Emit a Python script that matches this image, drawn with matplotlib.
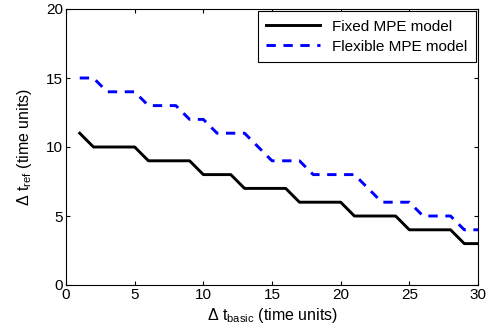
import numpy as np
import matplotlib
matplotlib.use('Agg')
import matplotlib.pyplot as plt

# global plotting options
plt.rcParams['font.family'] = ['Liberation Sans', 'DejaVu Sans']
plt.rcParams['mathtext.fontset'] = 'custom'
plt.rcParams['mathtext.rm'] = 'Liberation Sans'
plt.rcParams['mathtext.it'] = 'Liberation Sans:italic'
plt.rcParams['font.size'] = 11

# data
t_basic = np.arange(1, 31)
fixed_mpe = [11, 10, 10, 10, 10, 9, 9, 9, 9, 8,
             8, 8, 7, 7, 7, 7, 6, 6, 6, 6,
             5, 5, 5, 5, 4, 4, 4, 4, 3, 3]
flexible_mpe = [15, 15, 14, 14, 14, 13, 13, 13, 12, 12,
                11, 11, 11, 10, 9, 9, 9, 8, 8, 8,
                8, 7, 6, 6, 6, 5, 5, 5, 4, 4]

fig = plt.figure(figsize=(4.93, 3.36), dpi=100)
ax = fig.add_axes([66 / 493, 1 - 285 / 336, 412 / 493, 276 / 336])

ax.plot(t_basic, fixed_mpe, color='k', lw=2.1, label='Fixed MPE model')
ax.plot(t_basic, flexible_mpe, color='b', lw=2.1, dashes=(3.2, 2.6),
        label='Flexible MPE model')

ax.set_xlim(0, 30)
ax.set_ylim(0, 20)
ax.set_xticks(range(0, 31, 5))
ax.set_yticks(range(0, 21, 5))
ax.tick_params(direction='in', top=True, right=True, length=3, pad=2,
               labelsize=11)
for s in ax.spines.values():
    s.set_linewidth(0.8)

ax.set_xlabel(r'$\Delta$ t$_{\mathrm{basic}}$ (time units)', fontsize=11.5,
              labelpad=3)
ax.set_ylabel(r'$\Delta$ t$_{\mathrm{ref}}$ (time units)', fontsize=11.5,
              labelpad=9)

leg = ax.legend(loc='upper right', fontsize=11, handlelength=3.5,
                handletextpad=0.8, fancybox=False, framealpha=1,
                edgecolor='k', borderaxespad=0.15, labelspacing=0.4,
                borderpad=0.55)
leg.get_frame().set_linewidth(0.8)

fig.savefig('out.png', dpi=100)
